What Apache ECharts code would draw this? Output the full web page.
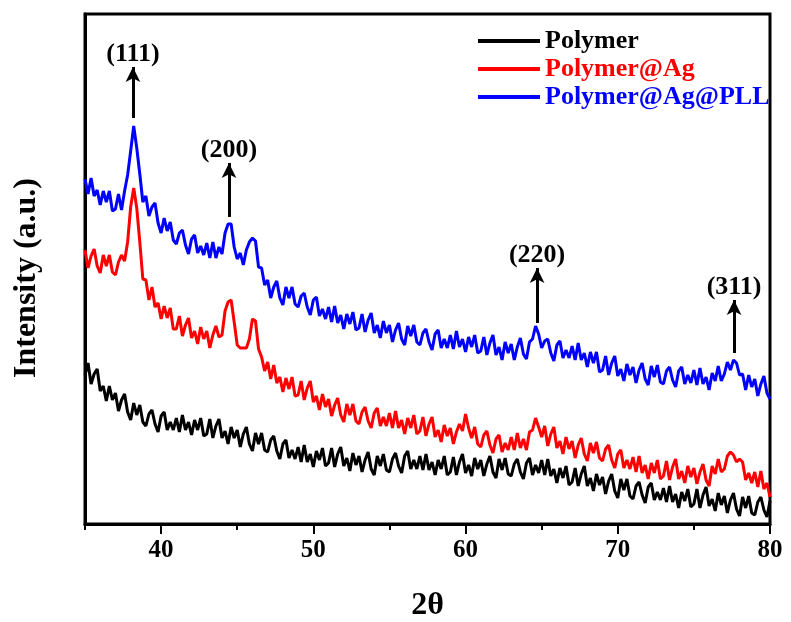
<!DOCTYPE html>
<html>
<head>
    <meta charset="utf-8">
    <title>XRD</title>
    <script src="https://cdn.jsdelivr.net/npm/echarts@6/dist/echarts.min.js"></script>
    <style>
        body { margin: 0; padding: 0; background: #fff; }
    </style>
</head>
<body>
<div id="main" style="width: 791px;height:622px;"></div>

<script type="text/javascript">
    // 2θ sampling: 35 .. 80, step 0.2 (one row = 2 degrees)
    const thetaStart = 35;
    const thetaStep = 0.2;
    const xTicks = [40, 50, 60, 70, 80];

    const polymer = [
        149,161,140,150,155,133,138,123,138,124,
        131,113,124,130,112,104,121,109,119,102,
        98,110,114,100,92,108,112,94,102,94,
        106,92,109,94,102,89,104,94,106,88,
        90,105,86,98,105,86,93,80,97,86,
        94,77,90,97,80,73,91,80,91,74,
        72,84,88,73,65,80,84,66,74,65,
        77,62,79,62,70,57,73,64,76,58,
        61,76,57,70,77,58,66,53,71,59,
        68,52,64,72,55,49,68,58,70,54,
        52,65,71,58,51,68,73,55,64,55,
        68,54,70,54,62,49,64,55,68,49,
        52,67,49,62,70,51,59,48,66,55,
        64,48,60,68,52,46,65,54,66,50,
        48,60,65,52,45,61,66,49,59,51,
        64,49,65,48,55,41,56,46,58,39,
        42,56,38,50,58,38,46,33,50,39,
        47,30,43,50,33,26,45,34,45,28,
        25,38,42,29,21,37,41,24,32,24,
        36,22,38,22,30,16,32,23,35,17,
        20,35,16,29,37,18,25,13,31,19,
        28,11,24,31,15,8,27,16,28,11,
        9,22,27,14,7,23
    ];
    const polymerAg = [
        274,256,268,275,258,251,269,258,269,252,
        249,262,269,263,282,317,336,316,282,245,
        244,224,237,217,221,205,218,206,216,195,
        195,208,188,199,206,186,193,180,197,185,
        193,176,189,198,187,189,213,222,224,202,
        179,176,176,176,185,205,203,175,167,153,
        162,145,159,141,147,132,146,135,147,128,
        129,143,124,136,143,122,128,114,130,117,
        125,108,119,126,109,102,120,109,120,103,
        100,112,117,103,96,111,116,98,107,98,
        111,96,113,96,104,90,106,96,109,90,
        93,107,88,100,107,87,94,82,99,88,
        96,80,92,100,93,110,96,86,97,80,
        77,89,93,79,71,85,89,72,81,74,
        87,74,91,76,85,74,92,94,106,97,
        87,98,78,90,97,76,83,70,87,75,
        83,66,79,86,70,63,81,71,82,66,
        63,75,79,64,56,70,74,56,64,55,
        67,52,68,51,59,45,61,51,64,45,
        48,63,44,57,65,45,53,41,58,47,
        56,40,52,60,44,38,58,50,65,52,
        55,68,72,69,62,65,62,44,51,41,
        52,37,53,35,41,27
    ];
    const polymerAgPLL = [
        345,330,346,328,334,319,333,322,333,313,
        315,330,314,333,349,373,398,376,350,322,
        328,308,317,321,301,291,306,293,302,284,
        280,291,294,279,270,285,289,271,278,269,
        281,266,282,266,277,270,291,300,300,277,
        265,271,259,274,282,286,283,257,256,239,
        244,226,237,243,226,219,237,226,237,220,
        217,228,231,217,209,224,227,208,215,205,
        217,202,218,201,209,195,210,200,212,194,
        196,210,192,204,211,191,199,186,203,191,
        199,182,194,201,185,179,198,188,199,182,
        179,191,195,182,174,190,194,176,185,176,
        189,175,193,177,185,172,187,177,189,171,
        173,187,169,181,189,169,177,164,182,171,
        180,164,177,186,170,165,182,185,198,190,
        176,183,185,171,163,179,183,166,174,166,
        178,164,181,164,171,157,172,161,172,152,
        154,168,149,161,168,148,155,143,160,149,
        157,141,154,161,145,139,158,147,159,142,
        140,153,157,144,137,153,157,140,149,141,
        154,139,156,140,147,134,151,143,158,143,
        150,162,154,164,161,149,150,134,149,137,
        145,128,140,148,131,125
    ];

    // peak arrows: label, 2θ, arrow tail, arrow head
    const peakLabels = ['(111)', '(200)', '(220)', '(311)'];
    const peakTheta = [38.15, 44.46, 64.7, 77.64];
    const arrowFrom = [406, 307, 201, 171];
    const arrowTo = [457, 361, 256, 224];

    const serif = 'Liberation Serif, Times New Roman, serif';

    function toPairs(arr) {
        return arr.map((v, i) => [+(thetaStart + i * thetaStep).toFixed(2), v]);
    }

    const arrowLines = peakLabels.map((lab, i) => [
        {
            name: lab,
            coord: [peakTheta[i], arrowFrom[i]],
            symbol: 'none',
            label: {
                show: true,
                position: 'end',
                formatter: '{b}',
                distance: 0,
                color: '#000',
                fontFamily: serif,
                fontWeight: 'bold',
                fontSize: 26
            },
            lineStyle: { color: '#000', width: 3, type: 'solid' }
        },
        { coord: [peakTheta[i], arrowTo[i]], symbol: 'arrow', symbolSize: [11, 15] }
    ]);

    let myChart = echarts.init(document.getElementById('main'));
    let option = {
        animation: false,
        backgroundColor: '#fff',
        legend: {
            orient: 'vertical',
            left: 473,
            top: 23,
            itemWidth: 62,
            itemHeight: 4,
            itemGap: 2,
            icon: 'rect',
            textStyle: {
                fontFamily: serif,
                fontWeight: 'bold',
                fontSize: 26
            },
            data: [
                { name: 'Polymer', textStyle: { color: '#000' } },
                { name: 'Polymer@Ag', textStyle: { color: '#ff0000' } },
                { name: 'Polymer@Ag@PLL', textStyle: { color: '#0000ff' } }
            ]
        },
        grid: [
            {
                left: 85, right: 21, top: 14, bottom: 98,
                outerBoundsMode: 'none',
                show: true, borderColor: '#000', borderWidth: 3
            },
            { left: 161, right: 21, top: 14, bottom: 98, outerBoundsMode: 'none' }
        ],
        xAxis: [
            {
                gridIndex: 0,
                type: 'value',
                min: 35,
                max: 80,
                interval: 5,
                name: '2θ',
                nameLocation: 'middle',
                nameGap: 66,
                nameTextStyle: { fontFamily: serif, fontWeight: 'bold', fontSize: 32, color: '#000' },
                axisLine: { lineStyle: { color: '#000', width: 3 } },
                axisTick: { length: 6, lineStyle: { color: '#000', width: 2 } },
                axisLabel: { show: false },
                splitLine: { show: false }
            },
            {
                gridIndex: 1,
                type: 'value',
                min: 40,
                max: 80,
                interval: 10,
                axisLine: { show: false },
                axisTick: { length: 10, lineStyle: { color: '#000', width: 2 } },
                axisLabel: {
                    margin: 14,
                    color: '#000',
                    fontFamily: serif,
                    fontWeight: 'bold',
                    fontSize: 25,
                    formatter: v => (xTicks.includes(v) ? String(v) : '')
                },
                splitLine: { show: false }
            }
        ],
        yAxis: [
            {
                gridIndex: 0,
                type: 'value',
                min: 0,
                max: 510,
                name: 'Intensity (a.u.)',
                nameLocation: 'middle',
                nameGap: 42,
                nameTextStyle: {
                    fontFamily: serif, fontWeight: 'bold', fontSize: 32, color: '#000',
                    padding: [0, 18, 0, 0]
                },
                axisLine: { show: true, lineStyle: { color: '#000', width: 3 } },
                axisTick: { show: false },
                axisLabel: { show: false },
                splitLine: { show: false }
            },
            { gridIndex: 1, type: 'value', min: 0, max: 510, show: false }
        ],
        series: [
            {
                name: 'Polymer',
                type: 'line',
                data: toPairs(polymer),
                showSymbol: false,
                color: '#000',
                lineStyle: { width: 3, color: '#000' }
            },
            {
                name: 'Polymer@Ag',
                type: 'line',
                data: toPairs(polymerAg),
                showSymbol: false,
                color: '#ff0000',
                lineStyle: { width: 3, color: '#ff0000' }
            },
            {
                name: 'Polymer@Ag@PLL',
                type: 'line',
                data: toPairs(polymerAgPLL),
                showSymbol: false,
                color: '#0000ff',
                lineStyle: { width: 3, color: '#0000ff' },
                markLine: {
                    silent: true,
                    symbol: ['none', 'arrow'],
                    animation: false,
                    data: arrowLines
                }
            }
        ]
    };
    myChart.setOption(option);
</script>
</body>
</html>
